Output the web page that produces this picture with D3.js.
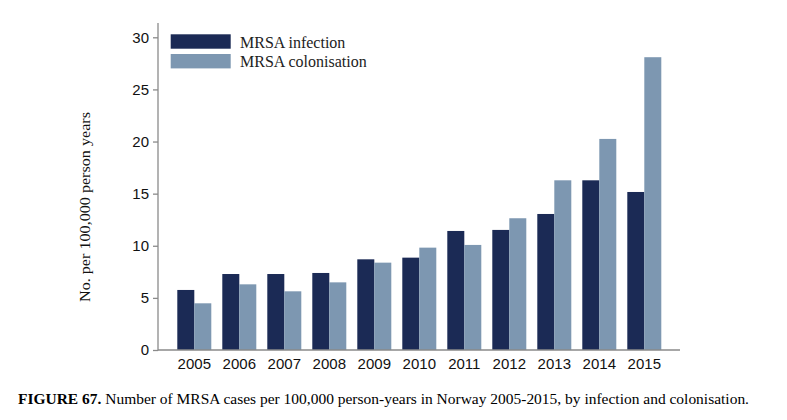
<!DOCTYPE html>
<html><head><meta charset="utf-8">
<script src="https://cdn.jsdelivr.net/npm/d3@7"></script>
<style>body{margin:0;background:#fff;}svg{display:block;}</style>
</head><body>
<svg id="c" width="787" height="420"></svg>
<script>
const years = ["2005","2006","2007","2008","2009","2010","2011","2012","2013","2014","2015"];
const infection = [5.76, 7.29, 7.29, 7.39, 8.70, 8.86, 11.42, 11.52, 13.05, 16.28, 15.16];
const colonisation = [4.48, 6.30, 5.63, 6.49, 8.38, 9.82, 10.08, 12.64, 16.28, 20.25, 28.09];
const seriesNames = ["MRSA infection", "MRSA colonisation"];
const colors = ["#1b2a55", "#7d97b1"];
const yTicks = [0, 5, 10, 15, 20, 25, 30];

const svg = d3.select("#c");
const axisX0 = 158, axisX1 = 680, yTop = 23;
const y = d3.scaleLinear().domain([0, 30]).range([350, 37.3]);
const x = d3.scaleBand().domain(years).range([171.8, 666.8]).paddingInner(11/45).paddingOuter(5.5/45);
const xs = d3.scaleBand().domain(seriesNames).range([0, x.bandwidth()]);

const data = years.map((yr, i) => ({yr, vals: [infection[i], colonisation[i]]}));
const g = svg.selectAll("g.grp").data(data).enter().append("g")
  .attr("transform", d => `translate(${x(d.yr)},0)`);
g.selectAll("rect").data(d => d.vals.map((v, k) => ({v, k}))).enter().append("rect")
  .attr("x", d => xs(seriesNames[d.k]))
  .attr("width", xs.bandwidth())
  .attr("y", d => y(d.v))
  .attr("height", d => y(0) - y(d.v))
  .attr("fill", d => colors[d.k]);

const axisColor = "#8a8a8a";
// Y axis
svg.append("line").attr("x1", axisX0).attr("x2", axisX0).attr("y1", yTop).attr("y2", 350.5)
  .attr("stroke", axisColor).attr("stroke-width", 1.3);
const yAxis = d3.axisLeft(y).tickValues(yTicks).tickSize(5).tickPadding(4);
const ya = svg.append("g").attr("transform", `translate(${axisX0},0)`).call(yAxis);
ya.select(".domain").remove();
ya.selectAll(".tick line").attr("stroke", axisColor).attr("stroke-width", 1.3);
ya.selectAll(".tick text").attr("font-family", "Liberation Sans, Arial, sans-serif").attr("font-size", 15).attr("fill", "#111");

// X axis
svg.append("line").attr("x1", axisX0).attr("x2", axisX1).attr("y1", 350).attr("y2", 350)
  .attr("stroke", axisColor).attr("stroke-width", 1.3);
const xAxis = d3.axisBottom(x).tickSize(0).tickPadding(5);
const xa = svg.append("g").attr("transform", `translate(0,350)`).call(xAxis);
xa.select(".domain").remove();
xa.selectAll(".tick text").attr("font-family", "Liberation Sans, Arial, sans-serif").attr("font-size", 15).attr("fill", "#111").attr("dy", "0.95em");

// Legend
const leg = svg.append("g");
seriesNames.forEach((n, k) => {
  leg.append("rect").attr("x", 170.7).attr("y", 34.3 + k * 19.7).attr("width", 60).attr("height", 14.4).attr("fill", colors[k]);
  leg.append("text").attr("x", 240).attr("y", 47.5 + k * 19.7).text(n)
    .attr("font-family", "Liberation Serif, Times New Roman, serif").attr("font-size", 16).attr("fill", "#222");
});

// Y label
svg.append("text").attr("transform", "translate(90,207) rotate(-90)").attr("text-anchor", "middle")
  .attr("font-family", "Liberation Serif, Times New Roman, serif").attr("font-size", 14).attr("fill", "#111")
  .attr("textLength", 190).attr("lengthAdjust", "spacingAndGlyphs")
  .text("No. per 100,000 person years");

// Caption
const cap = svg.append("text").attr("x", 18).attr("y", 404)
  .attr("font-family", "Liberation Serif, Times New Roman, serif").attr("font-size", 14).attr("fill", "#000")
  .attr("textLength", 731).attr("lengthAdjust", "spacingAndGlyphs");
cap.append("tspan").attr("font-weight", "bold").text("FIGURE 67.");
cap.append("tspan").text(" Number of MRSA cases per 100,000 person-years in Norway 2005-2015, by infection and colonisation.");
</script>
</body></html>
